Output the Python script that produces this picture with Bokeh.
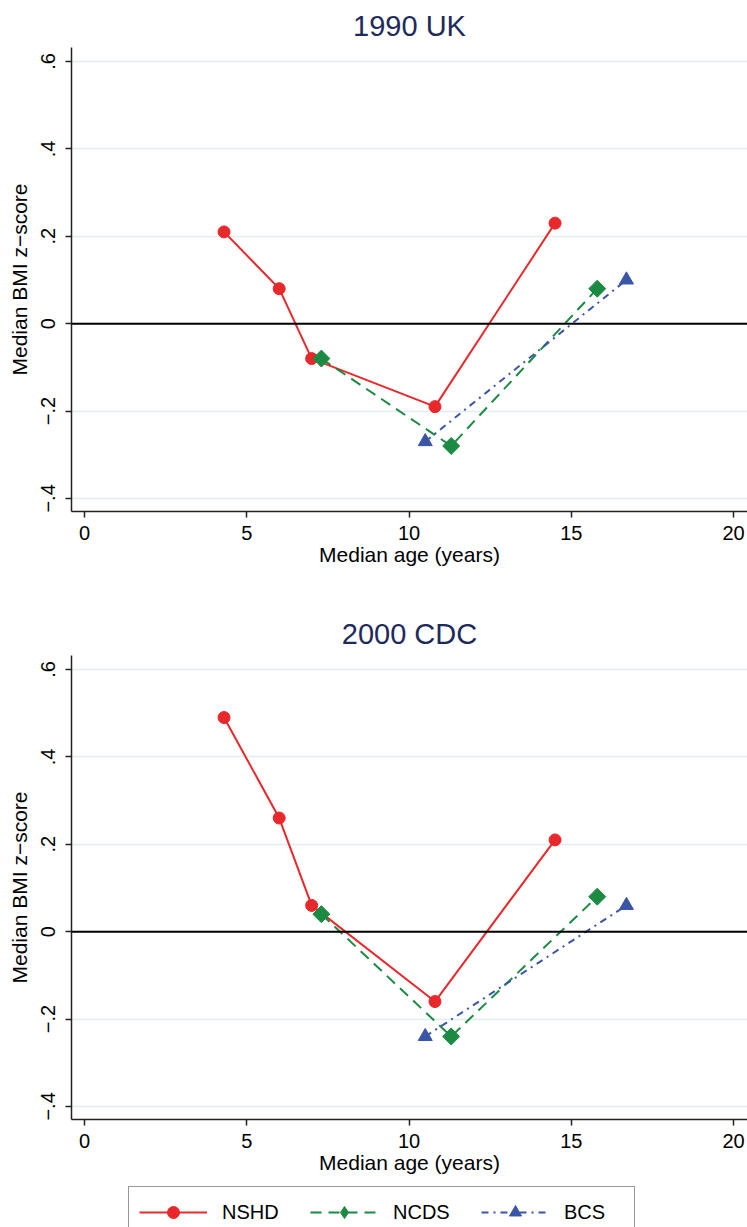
import math
from bokeh.plotting import figure
from bokeh.models import Span, Legend, LegendItem, FixedTicker, ColumnDataSource
from bokeh.layouts import column
from bokeh.embed import file_html
from bokeh.resources import INLINE

# ---- data ----
panels = ["1990 UK", "2000 CDC"]
nshd_age = [4.3, 6.0, 7.0, 10.8, 14.5]
ncds_age = [7.3, 11.3, 15.8]
bcs_age = [10.5, 16.7]
nshd_z = {"1990 UK": [0.21, 0.08, -0.08, -0.19, 0.23],
          "2000 CDC": [0.49, 0.26, 0.06, -0.16, 0.21]}
ncds_z = {"1990 UK": [-0.08, -0.28, 0.08],
          "2000 CDC": [0.04, -0.24, 0.08]}
bcs_z = {"1990 UK": [-0.27, 0.10],
         "2000 CDC": [-0.24, 0.06]}
y_ticks = [-0.4, -0.2, 0, 0.2, 0.4, 0.6]
y_tick_labels = {-0.4: "\u2212.4", -0.2: "\u2212.2", 0: "0", 0.2: ".2", 0.4: ".4", 0.6: ".6"}
x_ticks = [0, 5, 10, 15, 20]
series_names = ["NSHD", "NCDS", "BCS"]

RED = "#E8282B"
GREEN = "#1B8A42"
BLUE = "#3A55A6"
FONT = "'Liberation Sans', Arial, sans-serif"


def draw_series(p, name, legend_keys=False):
    s1 = ColumnDataSource(dict(x=nshd_age, y=nshd_z[name]))
    s2 = ColumnDataSource(dict(x=ncds_age, y=ncds_z[name]))
    s3 = ColumnDataSource(dict(x=bcs_age, y=bcs_z[name]))
    l1 = p.line("x", "y", source=s1, line_color=RED, line_width=2)
    m1 = p.scatter("x", "y", source=s1, marker="circle", size=12,
                   fill_color=RED, line_color=RED)
    l2 = p.line("x", "y", source=s2, line_color=GREEN, line_width=2, line_dash="11 7")
    if legend_keys:
        m2 = p.scatter("x", "y", source=s2, marker="diamond", size=18,
                       fill_color=GREEN, line_color=GREEN)
    else:
        m2 = p.scatter("x", "y", source=s2, marker="square", size=12, angle=math.pi / 4,
                       fill_color=GREEN, line_color=GREEN)
    l3 = p.line("x", "y", source=s3, line_color=BLUE, line_width=2, line_dash="7 5 2 5")
    m3 = p.scatter("x", "y", source=s3, marker="triangle", size=14,
                   fill_color=BLUE, line_color=BLUE)
    return [(l1, m1), (l2, m2), (l3, m3)]


def make_panel(name, top_border, bottom_border):
    p = figure(frame_width=676, frame_height=464,
               x_range=(-0.4, 20.43), y_range=(-0.43, 0.632),
               output_backend="svg", toolbar_location=None,
               min_border_left=71, min_border_right=0,
               min_border_top=top_border, min_border_bottom=bottom_border,
               title=name)
    p.outline_line_color = None
    p.background_fill_color = "white"
    p.border_fill_color = "white"
    p.title.align = "center"
    p.title.text_font = FONT
    p.title.text_font_size = "29px"
    p.title.text_font_style = "normal"
    p.title.text_color = "#1E2A5C"
    p.title.standoff = 12

    p.xaxis.ticker = FixedTicker(ticks=x_ticks)
    p.yaxis.ticker = FixedTicker(ticks=y_ticks)
    p.yaxis.major_label_overrides = y_tick_labels
    p.yaxis.major_label_orientation = "vertical"
    for ax in (p.xaxis, p.yaxis):
        ax.major_tick_out = 6
        ax.major_tick_in = 0
        ax.minor_tick_line_color = None
        ax.axis_line_width = 1.5
        ax.major_tick_line_width = 1.5
        ax.axis_line_color = "#222222"
        ax.major_tick_line_color = "#222222"
        ax.major_label_text_font = FONT
        ax.major_label_text_font_size = "20px"
        ax.major_label_text_color = "black"
        ax.axis_label_text_font = FONT
        ax.axis_label_text_font_size = "21px"
        ax.axis_label_text_font_style = "normal"
        ax.axis_label_text_color = "black"
    p.xaxis.axis_label = "Median age (years)"
    p.yaxis.axis_label = "Median BMI z\u2212score"
    p.xaxis.axis_label_standoff = 0
    p.yaxis.axis_label_standoff = 8
    p.xaxis.major_label_standoff = 8
    p.yaxis.major_label_standoff = 10

    p.xgrid.grid_line_color = None
    p.ygrid.grid_line_color = "#E3EDEF"
    p.ygrid.grid_line_width = 1.5

    p.add_layout(Span(location=0, dimension="width", line_color="black", line_width=2))
    draw_series(p, name)
    return p


p1 = make_panel(panels[0], 47, 69)
p2 = make_panel(panels[1], 75, 66)

# legend strip: series drawn out of view, used only for the legend keys
p3 = figure(width=747, height=42, x_range=(100, 101), y_range=(100, 101),
            x_axis_type=None, y_axis_type=None,
            output_backend="svg", toolbar_location=None,
            min_border=0, min_border_left=0, min_border_right=0,
            min_border_top=0, min_border_bottom=0)
p3.grid.visible = False
p3.outline_line_color = None
p3.background_fill_color = "white"
p3.border_fill_color = "white"
pairs = draw_series(p3, panels[1], legend_keys=True)
legend = Legend(items=[LegendItem(label=n, renderers=list(r)) for n, r in zip(series_names, pairs)],
                orientation="horizontal", location=(57, -11))
legend.glyph_width = 68
legend.glyph_height = 30
legend.label_width = 60
legend.label_standoff = 15
legend.spacing = 28
legend.padding = 10
legend.margin = 0
legend.label_text_font = FONT
legend.label_text_font_size = "20px"
legend.label_text_color = "black"
legend.border_line_color = "#333333"
legend.border_line_width = 1.5
legend.background_fill_color = "white"
p3.add_layout(legend)

layout = column(p1, p2, p3, spacing=0)

open("out.html", "w").write(file_html(layout, INLINE))
